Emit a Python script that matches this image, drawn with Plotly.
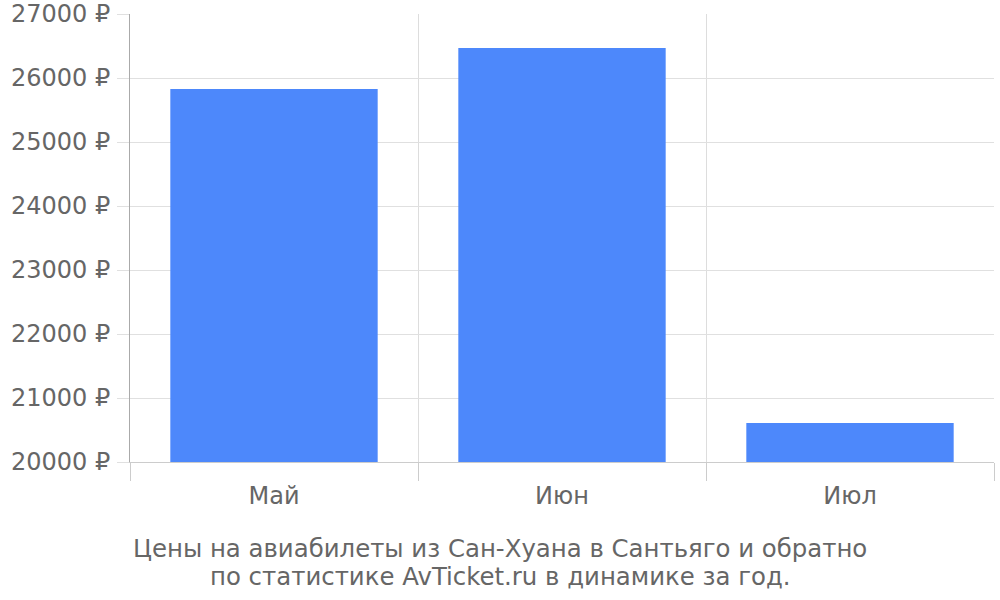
import plotly.graph_objects as go

months = ["Май", "Июн", "Июл"]
prices = [25828, 26469, 20609]
y_ticks = [20000, 21000, 22000, 23000, 24000, 25000, 26000, 27000]
y_labels = [f"{v} ₽" for v in y_ticks]
caption_lines = ["Цены на авиабилеты из Сан-Хуана в Сантьяго и обратно",
                 "по статистике AvTicket.ru в динамике за год."]

fig = go.Figure(go.Bar(x=months, y=prices, marker=dict(color="#4d88fb", line=dict(width=0)),
                       hoverinfo="x+y"))

font_family = "DejaVu Sans, sans-serif"
L, T, R, B = 130, 14, 6, 138
PLOT_BOTTOM = 600 - B
PLOT_H = 600 - T - B
PLOT_W = 1000 - L - R
caption_y_px = [548, 576]
annotations = [dict(
    text=t, xref="paper", yref="paper",
    x=(500 - L) / PLOT_W, y=(PLOT_BOTTOM - py) / PLOT_H, xanchor="center", yanchor="middle",
    showarrow=False, align="center",
    font=dict(family=font_family, size=24.4, color="#666666"),
) for t, py in zip(caption_lines, caption_y_px)]

fig.update_layout(
    width=1000, height=600,
    margin=dict(l=L, r=R, t=T, b=B, autoexpand=False),
    paper_bgcolor="white", plot_bgcolor="white",
    bargap=0.28,
    showlegend=False,
    font=dict(family=font_family, size=24, color="#666666"),
    annotations=annotations,
)
fig.update_xaxes(
    automargin=False,
    showgrid=True, gridcolor="#dddddd", gridwidth=1,
    tickson="boundaries", ticks="outside", ticklen=18, tickcolor="#cccccc",
    showline=True, linecolor="#cccccc", linewidth=1,
    ticklabelstandoff=12,
    tickfont=dict(size=24, color="#666666"),
)
fig.update_yaxes(
    automargin=False,
    range=[20000, 27000], tickvals=y_ticks, ticktext=y_labels,
    showgrid=True, gridcolor="#e0e0e0", gridwidth=1,
    ticks="outside", ticklen=12, tickcolor="#e0e0e0",
    showline=True, linecolor="#aaaaaa", linewidth=1,
    zeroline=False, ticklabelstandoff=2, ticklabeloverflow="allow",
    tickfont=dict(size=24, color="#666666"),
)
fig.write_html("out.html", config={"displayModeBar": False},
               post_script="document.body.style.margin='0';")
